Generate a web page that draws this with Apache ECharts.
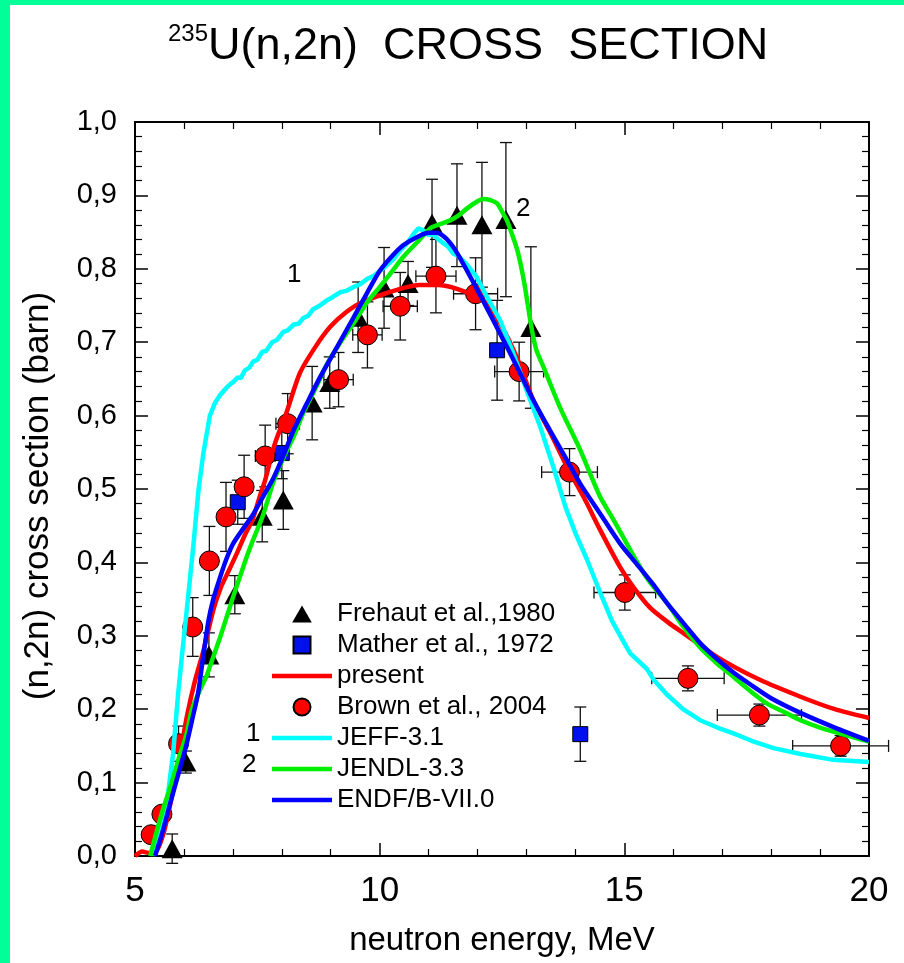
<!DOCTYPE html>
<html>
<head>
<meta charset="utf-8">
<script src="https://cdn.jsdelivr.net/npm/echarts@6/dist/echarts.min.js"></script>
<style>
html,body{margin:0;padding:0;background:#00FF99;}
#panel{position:absolute;left:10px;top:5px;width:894px;height:958px;background:#fff;}
#chart{position:absolute;left:0;top:0;width:904px;height:963px;}
</style>
</head>
<body>
<div id="panel"></div>
<div id="chart"></div>
<script>
// ---- Data ----
const frehautX   = [5.76, 6.04, 6.51, 7.04, 7.6, 8.03, 8.62, 8.98, 9.56, 10.09, 10.58, 11.07, 11.58, 12.09, 12.58, 13.09];
const frehautY   = [0.01, 0.128, 0.274, 0.356, 0.463, 0.485, 0.617, 0.645, 0.734, 0.774, 0.78, 0.862, 0.873, 0.86, 0.867, 0.72];
const frehautErr = [0.02, 0.015, 0.03, 0.026, 0.035, 0.04, 0.05, 0.035, 0.048, 0.055, 0.03, 0.06, 0.07, 0.085, 0.105, 0.11];

const matherX   = [7.1, 8.0, 12.4, 14.1];
const matherY   = [0.482, 0.549, 0.689, 0.166];
const matherErr = [0.03, 0.035, 0.068, 0.037];

const brownX    = [5.33, 5.55, 5.89, 6.18, 6.52, 6.86, 7.23, 7.66, 8.12, 9.16, 9.75, 10.42, 11.15, 11.96, 12.85, 13.88, 15.01, 16.3, 17.76, 19.42];
const brownY    = [0.029, 0.057, 0.153, 0.312, 0.402, 0.462, 0.503, 0.545, 0.589, 0.649, 0.71, 0.749, 0.79, 0.766, 0.66, 0.523, 0.359, 0.242, 0.192, 0.15];
const brownYErr = [0.01, 0.01, 0.024, 0.04, 0.047, 0.047, 0.043, 0.042, 0.041, 0.037, 0.045, 0.046, 0.05, 0.049, 0.04, 0.032, 0.024, 0.017, 0.015, 0.014];
const brownXErr = [0.08, 0.1, 0.1, 0.12, 0.12, 0.14, 0.17, 0.2, 0.24, 0.3, 0.3, 0.35, 0.41, 0.45, 0.5, 0.57, 0.63, 0.74, 0.86, 0.98];

const presentCurve = [[5.0,0.0],[5.15,0.006],[5.3,0.004],[5.45,0.008],[5.6,0.035],[5.75,0.08],[5.9,0.13],[6.06,0.19],[6.23,0.24],[6.4,0.28],[6.6,0.335],[6.75,0.365],[6.94,0.392],[7.1,0.415],[7.25,0.438],[7.4,0.458],[7.55,0.49],[7.66,0.512],[7.85,0.56],[8.1,0.605],[8.37,0.658],[8.7,0.695],[8.99,0.721],[9.3,0.74],[9.6,0.753],[10.15,0.767],[10.8,0.778],[11.2,0.778],[11.78,0.768],[12.19,0.753],[12.46,0.726],[12.8,0.68],[13.14,0.621],[13.5,0.575],[13.83,0.53],[14.2,0.485],[14.5,0.445],[14.91,0.394],[15.2,0.365],[15.53,0.338],[15.9,0.318],[16.2,0.304],[16.9,0.271],[17.77,0.24],[18.6,0.217],[19.3,0.2],[20,0.188]];

const jeffCurve = [[5.37,0],[5.5,0.03],[5.65,0.072],[5.78,0.14],[5.88,0.22],[5.95,0.267],[6.05,0.33],[6.19,0.421],[6.3,0.5],[6.4,0.55],[6.53,0.6],[6.64,0.618],[6.74,0.628],[6.87,0.638],[6.95,0.643],[7.01,0.646],[7.1,0.652],[7.16,0.651],[7.25,0.662],[7.33,0.665],[7.42,0.674],[7.5,0.676],[7.6,0.687],[7.68,0.688],[7.8,0.7],[7.9,0.703],[8.03,0.714],[8.12,0.716],[8.24,0.724],[8.34,0.725],[8.44,0.733],[8.54,0.736],[8.64,0.745],[8.78,0.75],[8.92,0.757],[9.05,0.762],[9.19,0.768],[9.32,0.77],[9.46,0.775],[9.6,0.779],[9.74,0.786],[9.87,0.79],[10.0,0.797],[10.15,0.805],[10.28,0.813],[10.42,0.825],[10.55,0.834],[10.7,0.848],[10.79,0.855],[10.9,0.852],[11.0,0.846],[11.1,0.846],[11.2,0.84],[11.3,0.835],[11.4,0.83],[11.5,0.821],[11.6,0.818],[11.78,0.806],[11.98,0.789],[12.19,0.762],[12.46,0.73],[12.73,0.685],[13.0,0.635],[13.28,0.585],[13.55,0.53],[13.8,0.475],[14.0,0.44],[14.23,0.405],[14.5,0.36],[14.75,0.32],[15.0,0.29],[15.12,0.276],[15.3,0.265],[15.46,0.255],[15.6,0.24],[15.87,0.22],[16.2,0.2],[16.55,0.185],[16.9,0.175],[17.23,0.167],[17.6,0.157],[18.05,0.147],[18.6,0.139],[19.27,0.131],[20,0.128]];

const jendlCurve = [[5.31,0],[5.45,0.035],[5.57,0.063],[5.75,0.1],[5.88,0.13],[6.05,0.165],[6.16,0.199],[6.3,0.222],[6.46,0.245],[6.53,0.258],[6.75,0.3],[7.0,0.352],[7.28,0.407],[7.41,0.43],[7.62,0.465],[7.83,0.51],[8.05,0.545],[8.24,0.571],[8.45,0.605],[8.71,0.64],[8.92,0.67],[9.2,0.7],[9.46,0.725],[9.75,0.755],[10.0,0.775],[10.25,0.796],[10.48,0.816],[10.82,0.84],[11.03,0.855],[11.2,0.86],[11.44,0.866],[11.6,0.872],[11.78,0.882],[12.0,0.892],[12.11,0.895],[12.25,0.894],[12.4,0.889],[12.5,0.878],[12.6,0.866],[12.7,0.848],[12.81,0.826],[12.9,0.8],[12.97,0.775],[13.1,0.721],[13.2,0.69],[13.35,0.666],[13.68,0.612],[14.1,0.553],[14.5,0.49],[14.78,0.458],[15.18,0.41],[15.5,0.375],[15.87,0.345],[16.2,0.313],[16.55,0.284],[16.9,0.262],[17.23,0.244],[17.57,0.225],[17.91,0.208],[18.3,0.195],[18.6,0.185],[19.0,0.175],[19.5,0.165],[20,0.156]];

const endfCurve = [[5.41,0],[5.55,0.03],[5.72,0.072],[5.9,0.115],[6.06,0.154],[6.2,0.195],[6.29,0.222],[6.39,0.27],[6.5,0.32],[6.6,0.35],[6.74,0.38],[6.87,0.405],[7.0,0.425],[7.2,0.445],[7.41,0.465],[7.62,0.49],[7.83,0.515],[8.03,0.545],[8.24,0.58],[8.5,0.615],[8.78,0.652],[9.1,0.69],[9.46,0.733],[9.75,0.768],[10.0,0.797],[10.25,0.817],[10.48,0.832],[10.82,0.845],[11.0,0.849],[11.16,0.849],[11.33,0.843],[11.5,0.83],[11.64,0.815],[11.78,0.798],[12.11,0.757],[12.46,0.712],[12.81,0.666],[13.14,0.621],[13.48,0.58],[13.83,0.539],[14.1,0.507],[14.5,0.467],[14.91,0.426],[15.25,0.398],[15.59,0.37],[15.9,0.342],[16.2,0.318],[16.55,0.29],[16.9,0.268],[17.23,0.25],[17.57,0.234],[18.0,0.215],[18.6,0.195],[19.3,0.175],[20,0.157]];

const xTicks = [5, 10, 15, 20];
const yTickStep = 0.1;

// ---- Build ----
const FONT = '"Liberation Sans", Arial, Helvetica, sans-serif';
const chart = echarts.init(document.getElementById('chart'), null, {renderer: 'canvas'});

function errData(xs, ys, yerr, xerr) {
  return xs.map((x, i) => [x, ys[i], ys[i] - yerr[i], ys[i] + yerr[i],
    xerr ? x - xerr[i] : x, xerr ? x + xerr[i] : x]);
}
function renderErr(params, api) {
  const c = api.coord([api.value(0), api.value(1)]);
  const lo = api.coord([api.value(0), api.value(2)]);
  const hi = api.coord([api.value(0), api.value(3)]);
  const xl = api.coord([api.value(4), api.value(1)]);
  const xh = api.coord([api.value(5), api.value(1)]);
  const cap = 6;
  const style = {stroke: '#111', lineWidth: 1.3};
  const kids = [
    {type: 'line', shape: {x1: c[0], y1: lo[1], x2: c[0], y2: hi[1]}, style},
    {type: 'line', shape: {x1: c[0] - cap, y1: lo[1], x2: c[0] + cap, y2: lo[1]}, style},
    {type: 'line', shape: {x1: c[0] - cap, y1: hi[1], x2: c[0] + cap, y2: hi[1]}, style}
  ];
  if (xh[0] - xl[0] > 1) {
    kids.push({type: 'line', shape: {x1: xl[0], y1: c[1], x2: xh[0], y2: c[1]}, style});
    kids.push({type: 'line', shape: {x1: xl[0], y1: c[1] - cap, x2: xl[0], y2: c[1] + cap}, style});
    kids.push({type: 'line', shape: {x1: xh[0], y1: c[1] - cap, x2: xh[0], y2: c[1] + cap}, style});
  }
  return {type: 'group', children: kids};
}

const axisCommon = {
  type: 'value',
  axisLine: {onZero: false, lineStyle: {color: '#000', width: 2}},
  axisTick: {inside: true, length: 13, lineStyle: {color: '#000', width: 1.5}},
  minorTick: {show: true, splitNumber: 5, length: 7, lineStyle: {color: '#000', width: 1.2}},
  splitLine: {show: false}
};

const LINE_ICON = 'path://M0,0h60v4.5h-60z';
const option = {
  animation: false,
  title: {
    text: '{s|235}{m|U(n,2n)  CROSS  SECTION}',
    left: 163, top: 17,
    textStyle: {
      fontWeight: 'normal',
      rich: {
        s: {fontFamily: FONT, fontSize: 24, fontWeight: 'normal', color: '#000', verticalAlign: 'top', lineHeight: 50, padding: [0, 0, 22, 0]},
        m: {fontFamily: FONT, fontSize: 45, fontWeight: 'normal', color: '#000', lineHeight: 50}
      }
    }
  },
  grid: {left: 135, top: 122, width: 734, height: 734},
  xAxis: [
    Object.assign({}, axisCommon, {
      position: 'bottom', min: xTicks[0], max: xTicks[xTicks.length - 1], interval: xTicks[1] - xTicks[0],
      axisLabel: {fontFamily: FONT, fontSize: 35, color: '#000', margin: 18},
      name: 'neutron energy, MeV', nameLocation: 'middle', nameGap: 68,
      nameTextStyle: {fontFamily: FONT, fontSize: 33, color: '#000'}
    }),
    Object.assign({}, axisCommon, {
      position: 'top', min: xTicks[0], max: xTicks[xTicks.length - 1], interval: xTicks[1] - xTicks[0],
      axisLabel: {show: false}
    })
  ],
  yAxis: [
    Object.assign({}, axisCommon, {
      position: 'left', min: 0, max: 1, interval: yTickStep,
      axisLabel: {fontFamily: FONT, fontSize: 29, color: '#000', margin: 18,
        formatter: v => v.toFixed(1).replace('.', ',')},
      name: '(n,2n) cross section (barn)', nameLocation: 'middle', nameGap: 79,
      nameTextStyle: {fontFamily: FONT, fontSize: 35, color: '#000', padding: [0, 14, 0, 0]}
    }),
    Object.assign({}, axisCommon, {
      position: 'right', min: 0, max: 1, interval: yTickStep,
      axisLabel: {show: false}
    })
  ],
  legend: {
    left: 267, top: 596, orient: 'vertical', itemWidth: 60, itemHeight: 17, itemGap: 5,
    symbolKeepAspect: true,
    textStyle: {fontFamily: FONT, fontSize: 26, lineHeight: 26, color: '#000'},
    data: [
      {name: 'Frehaut et al.,1980', icon: 'path://M10,0L20,17.3L0,17.3Z'},
      {name: 'Mather et al., 1972', icon: 'path://M0,0h10v10h-10z'},
      {name: 'present', icon: LINE_ICON},
      {name: 'Brown et al., 2004', icon: 'circle'},
      {name: 'JEFF-3.1', icon: LINE_ICON},
      {name: 'JENDL-3.3', icon: LINE_ICON},
      {name: 'ENDF/B-VII.0', icon: LINE_ICON}
    ]
  },
  graphic: [
    {type: 'text', left: 246, top: 721, style: {text: '1', font: '26px ' + FONT, fill: '#000'}, z: 100},
    {type: 'text', left: 242, top: 752, style: {text: '2', font: '26px ' + FONT, fill: '#000'}, z: 100},
    {type: 'text', left: 287, top: 262, style: {text: '1', font: '26px ' + FONT, fill: '#000'}, z: 100},
    {type: 'text', left: 516, top: 196, style: {text: '2', font: '26px ' + FONT, fill: '#000'}, z: 100}
  ],
  series: [
    {type: 'custom', name: 'errF', renderItem: renderErr, data: errData(frehautX, frehautY, frehautErr), z: 1, silent: true},
    {type: 'custom', name: 'errM', renderItem: renderErr, data: errData(matherX, matherY, matherErr), z: 1, silent: true},
    {type: 'custom', name: 'errB', renderItem: renderErr, data: errData(brownX, brownY, brownYErr, brownXErr), z: 1, silent: true},
    {type: 'scatter', name: 'Frehaut et al.,1980', symbol: 'triangle', symbolSize: [21, 19],
      itemStyle: {color: '#000', opacity: 1}, data: frehautX.map((x, i) => [x, frehautY[i]]), z: 2},
    {type: 'scatter', name: 'Mather et al., 1972', symbol: 'rect', symbolSize: 15,
      itemStyle: {color: '#0011ee', borderColor: '#000', borderWidth: 1, opacity: 1}, data: matherX.map((x, i) => [x, matherY[i]]), z: 2},
    {type: 'line', name: 'present', data: presentCurve, showSymbol: false, smooth: 0.25,
      lineStyle: {color: '#ff0000', width: 4.5}, itemStyle: {color: '#ff0000'}, z: 3},
    {type: 'scatter', name: 'Brown et al., 2004', symbol: 'circle', symbolSize: 20,
      itemStyle: {color: '#ff0000', borderColor: '#000', borderWidth: 1, opacity: 1}, data: brownX.map((x, i) => [x, brownY[i]]), z: 2},
    {type: 'line', name: 'JEFF-3.1', data: jeffCurve, showSymbol: false, smooth: false,
      lineStyle: {color: '#00ffff', width: 4.5}, itemStyle: {color: '#00ffff'}, z: 3},
    {type: 'line', name: 'JENDL-3.3', data: jendlCurve, showSymbol: false, smooth: 0.25,
      lineStyle: {color: '#00ee00', width: 4.5}, itemStyle: {color: '#00ee00'}, z: 3},
    {type: 'line', name: 'ENDF/B-VII.0', data: endfCurve, showSymbol: false, smooth: 0.25,
      lineStyle: {color: '#0000ff', width: 4.5}, itemStyle: {color: '#0000ff'}, z: 3}
  ]
};
chart.setOption(option);
</script>
</body>
</html>
